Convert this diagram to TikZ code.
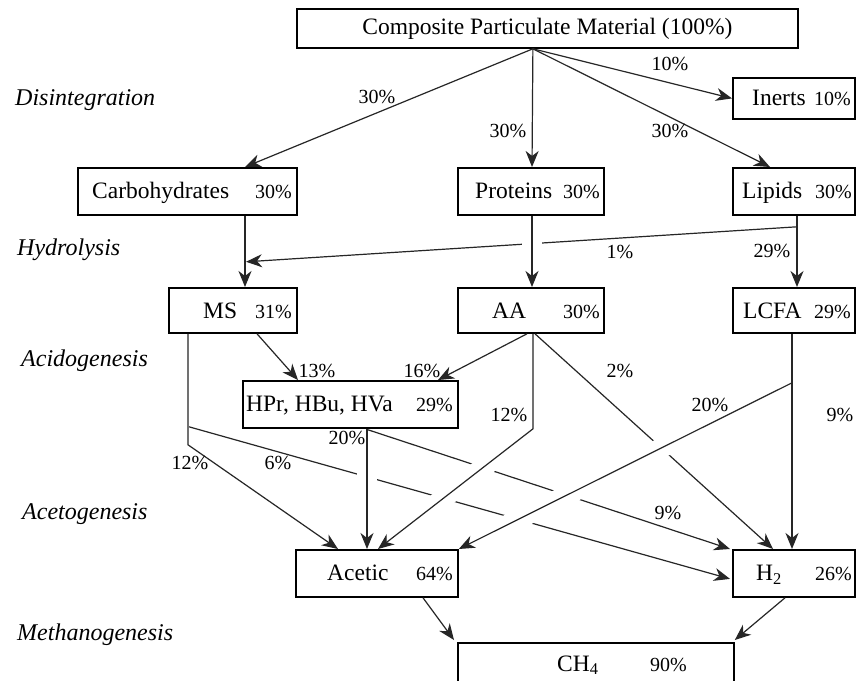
\documentclass[tikz,border=0pt]{standalone}
\usepackage{fontspec}
\setmainfont{Liberation Serif}
\usetikzlibrary{arrows.meta,calc}
\begin{document}
\begin{tikzpicture}[x=1pt,y=-1pt,
  box/.style={draw=black, line width=1.8pt, inner sep=0pt, anchor=north west},
  nm/.style={anchor=base west, inner sep=0pt, font=\fontsize{23.5}{26}\selectfont},
  pc/.style={anchor=base west, inner sep=0pt, font=\fontsize{20}{22}\selectfont},
  lbl/.style={inner sep=0pt, font=\fontsize{20}{22}\selectfont},
  stage/.style={anchor=base west, inner sep=0pt, font=\fontsize{24}{26}\selectfont\itshape},
  con/.style={draw=black!85, line width=1.2pt},
  arr/.style={con, -{Stealth[length=16pt,width=13pt,inset=5pt]}},
  halo/.style={draw=white, line width=20pt},
]
\useasboundingbox[fill=white] (0,0) rectangle (856,680);

% ---- boxes ----
\node[box, minimum width=501pt, minimum height=39pt, font=\fontsize{23.5}{26}\selectfont] (top) at (296,8) {Composite Particulate Material (100\%)};
\node[box, minimum width=122pt, minimum height=41pt] (inerts) at (732,77) {};
\node[box, minimum width=219pt, minimum height=47pt] (carb) at (77,167) {};
\node[box, minimum width=146pt, minimum height=47pt] (prot) at (457,167) {};
\node[box, minimum width=122pt, minimum height=47pt] (lip) at (732,167) {};
\node[box, minimum width=128pt, minimum height=45pt] (ms) at (168,287) {};
\node[box, minimum width=146pt, minimum height=45pt] (aa) at (457,287) {};
\node[box, minimum width=122pt, minimum height=45pt] (lcfa) at (732,287) {};
\node[box, minimum width=215pt, minimum height=47pt] (hpr) at (242,380) {};
\node[box, minimum width=162pt, minimum height=47pt] (acetic) at (295,549) {};
\node[box, minimum width=122pt, minimum height=47pt] (h2) at (732,549) {};
\node[box, minimum width=276pt, minimum height=60pt] (ch4) at (457,642) {};

% ---- box texts ----
\node[nm] (tinerts) at (752,105.5) {Inerts};
\node[pc] (pinerts) at (814,105.5) {10\%};
\node[nm] (tcarb) at (92,198.5) {Carbohydrates};
\node[pc] (pcarb) at (255,198.5) {30\%};
\node[nm] (tprot) at (475,198.5) {Proteins};
\node[pc] (pprot) at (563,198.5) {30\%};
\node[nm] (tlip) at (742,198.5) {Lipids};
\node[pc] (plip) at (815,198.5) {30\%};
\node[nm] (tms) at (203,318) {MS};
\node[pc] (pms) at (255,318) {31\%};
\node[nm] (taa) at (492,318) {AA};
\node[pc] (paa) at (563,318) {30\%};
\node[nm] (tlcfa) at (743,318) {LCFA};
\node[pc] (plcfa) at (814,318) {29\%};
\node[nm] (thpr) at (246,411.5) {HPr, HBu, HVa};
\node[pc] (phpr) at (416,411.5) {29\%};
\node[nm] (tacetic) at (327,580.5) {Acetic};
\node[pc] (pacetic) at (416,580.5) {64\%};
\node[nm] (th2) at (756,580.5) {H\textsubscript{2}};
\node[pc] (ph2) at (815,580.5) {26\%};
\node[nm] (tch4) at (557,671) {CH\textsubscript{4}};
\node[pc] (pch4) at (650,671) {90\%};

% ---- stage labels ----
\node[stage] (sdis) at (15,105) {Disintegration};
\node[stage] (shyd) at (17,255) {Hydrolysis};
\node[stage] (sacid) at (21,366) {Acidogenesis};
\node[stage] (saceto) at (22,519) {Acetogenesis};
\node[stage] (smeth) at (17,640) {Methanogenesis};

% ---- helper coordinates ----
\coordinate (S) at ($(top.south)+(-14.5,0)$);
\coordinate (lsplit) at ($(lip.south west)+(65,11)$);
\coordinate (hyd) at ($(carb.south west)+(169,46)$);
\coordinate (aak) at ($(aa.south west)+(76,95)$);
\coordinate (lk) at ($(lcfa.south west)+(60,49)$);
\coordinate (msk) at ($(ms.south west)+(20,111)$);
\coordinate (msb) at ($(ms.south west)+(21,93)$);
\coordinate (acA) at ($(acetic.north west)+(83,0)$);

% ---- disintegration ----
\draw[arr] (S) -- ($(carb.north west)+(168,0)$);
\draw[arr] (S) -- ($(prot.north west)+(75,0)$);
\draw[arr] (S) -- (inerts.west);
\draw[arr] (S) -- ($(lip.north west)+(38,0)$);

% ---- hydrolysis ----
\draw[arr] ($(carb.south west)+(168,0)$) -- ($(ms.north west)+(77,0)$);
\draw[arr] ($(lip.south west)+(65,0)$) -- ($(lcfa.north west)+(65,0)$);
\draw[arr] (lsplit) -- (hyd);

% ---- lines passing under ----
\draw[arr] ($(aa.south west)+(78,0)$) -- ($(h2.north west)+(41,0)$);
\draw[arr] ($(hpr.south west)+(126,1)$) -- ($(h2.north west)+(-2,0)$);
\draw[arr] (msb) -- ($(h2.west)+(-2,5.5)$);

% ---- halos ----
\draw[halo] ($(prot.south west)+(75,8)$) -- ($(prot.south west)+(75,52)$);
\draw[halo] ($(hpr.south west)+(125,25)$) -- ($(hpr.south west)+(125,95)$);
\draw[halo, shorten <=30pt, shorten >=30pt] (aak) -- (acA);
\draw[halo, shorten <=25pt, shorten >=35pt] (lk) -- (acetic.north east);

% ---- lines passing over ----
\draw[arr] ($(prot.south west)+(75,0)$) -- ($(aa.north west)+(75,0)$);
\draw[arr] ($(hpr.south west)+(125,0)$) -- ($(acetic.north west)+(72,0)$);
\draw[arr] ($(aa.south west)+(76,0)$) -- (aak) -- (acA);
\draw[arr] (lk) -- (acetic.north east);

% ---- acidogenesis / acetogenesis others ----
\draw[arr] ($(ms.south west)+(89,0)$) -- ($(hpr.north west)+(56,0)$);
\draw[arr] ($(aa.south west)+(70,0)$) -- ($(hpr.north west)+(196,0)$);
\draw[arr] ($(lcfa.south west)+(60,0)$) -- ($(h2.north west)+(60,0)$);
\draw[arr] ($(ms.south west)+(20,0)$) -- (msk) -- ($(acetic.north west)+(43,0)$);

% ---- methanogenesis ----
\draw[arr] ($(acetic.south west)+(128,0)$) -- ($(ch4.north west)+(-3,-2)$);
\draw[arr] ($(h2.south west)+(53,0)$) -- ($(ch4.north east)+(0,-2)$);

% ---- connector labels ----
\node[lbl] (l1) at (377,97) {30\%};
\node[lbl] (l2) at (508,131) {30\%};
\node[lbl] (l3) at (670,64) {10\%};
\node[lbl] (l4) at (670,131) {30\%};
\node[lbl] (l5) at (620,252) {1\%};
\node[lbl] (l6) at (772,251) {29\%};
\node[lbl] (l7) at (317,371) {13\%};
\node[lbl] (l8) at (422,371) {16\%};
\node[lbl] (l9) at (620,371) {2\%};
\node[lbl] (l10) at (509,415) {12\%};
\node[lbl] (l11) at (710,405) {20\%};
\node[lbl] (l12) at (840,415) {9\%};
\node[lbl] (l13) at (347,438) {20\%};
\node[lbl] (l14) at (190,463) {12\%};
\node[lbl] (l15) at (278,463) {6\%};
\node[lbl] (l16) at (668,513) {9\%};
\end{tikzpicture}
\end{document}
